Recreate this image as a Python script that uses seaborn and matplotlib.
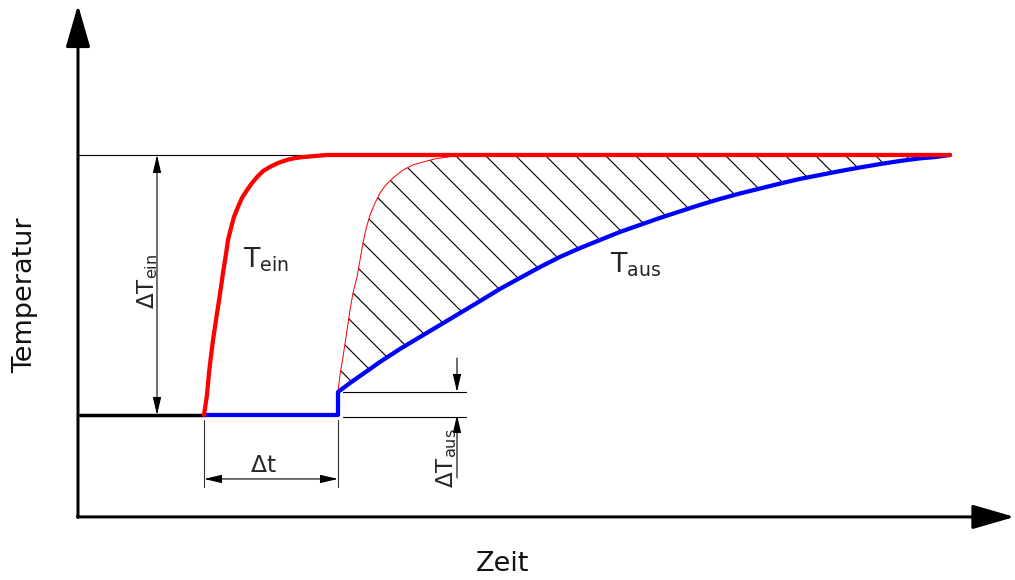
import numpy as np
import pandas as pd
import matplotlib
matplotlib.use("Agg")
import matplotlib.pyplot as plt
import seaborn as sns

# ---------------- data (time units, temperature units: baseline 0, final 10) ----------------
t_base = [0.2, 12.6]
T_base = [0.0, 0.0]

t_ein = [12.6, 12.9, 13.1, 13.3, 13.5, 13.8, 14.0, 14.3, 14.5, 14.8, 15.0, 15.3, 15.6, 16.0,
         16.4, 16.9, 17.4, 17.9, 18.5, 19.2, 20.0, 20.9, 21.7, 22.5, 23.7, 24.9, 87.2]
T_ein = [0.0, 0.77, 1.62, 2.27, 2.88, 3.65, 4.15, 4.92, 5.46, 6.19, 6.73, 7.19, 7.62, 8.0,
         8.35, 8.65, 8.92, 9.15, 9.38, 9.54, 9.69, 9.81, 9.88, 9.92, 9.96, 10.0, 10.0]

t_aus = [12.6, 26.0, 26.0, 27.2, 28.2, 29.2, 30.2, 32.2, 34.2, 36.2, 38.2, 40.2, 42.2, 44.2,
         46.2, 48.2, 50.2, 52.2, 54.2, 56.2, 58.2, 60.2, 62.2, 64.2, 66.2, 68.2, 70.2, 72.2,
         74.2, 76.2, 78.2, 80.2, 82.2, 84.2, 85.7, 87.2]
T_aus = [0.0, 0.0, 0.885, 1.23, 1.5, 1.77, 2.04, 2.54, 3.0, 3.46, 3.92, 4.38, 4.85, 5.27,
         5.69, 6.08, 6.42, 6.73, 7.04, 7.31, 7.58, 7.83, 8.08, 8.31, 8.52, 8.71, 8.9, 9.08,
         9.23, 9.38, 9.52, 9.65, 9.77, 9.87, 9.92, 10.0]

# front of the inlet temperature arriving at the outlet (thin red boundary of hatched area)
t_front = [26.0, 26.2, 26.5, 26.8, 27.2, 27.5, 27.9, 28.2, 28.5, 28.8, 29.2, 29.7, 30.2,
           30.8, 31.5, 32.5, 33.5, 34.5, 35.7, 36.9, 37.9, 39.2]
T_front = [0.885, 1.54, 2.23, 3.0, 4.04, 4.69, 5.31, 5.96, 6.62, 7.15, 7.69, 8.15, 8.54,
           8.85, 9.12, 9.42, 9.62, 9.73, 9.85, 9.92, 9.98, 10.0]

# dimension positions
t_start, t_delay = 12.6, 26.0
T_low, T_high, T_step = 0.0, 10.0, 0.885
t_dim_ein = 7.9
T_dim_dt = -2.46
t_dim_aus = 37.9
T_axis = -3.92

# ---------------- style ----------------
sns.set_theme(style="white")
plt.rcParams["font.family"] = ["DejaVu Sans"]
plt.rcParams["mathtext.fontset"] = "dejavusans"
plt.rcParams["hatch.linewidth"] = 0.45

DPI = 180
fig = plt.figure(figsize=(1015 / DPI, 580 / DPI), dpi=DPI)
ax = fig.add_axes([0, 0, 1, 1])
ax.set_xlim(-7.8, 93.7)
ax.set_ylim(-6.346, 15.96)
ax.axis("off")

RED = "#ff0000"
BLUE = "#0000ff"
thin = 0.45

# hatched area between front and outlet temperature
poly_t = t_front + [t_aus[-1]] + t_aus[2:][::-1]
poly_T = T_front + [T_aus[-1]] + T_aus[2:][::-1]
ax.fill(poly_t, poly_T, facecolor="none", edgecolor="black", linewidth=0, hatch="\\\\", zorder=1)

# helper lines
ax.plot([0, 30], [T_high, T_high], color="black", lw=thin, zorder=2)
for tt in (t_start, t_delay):
    ax.plot([tt, tt], [-0.2, -2.77], color="#333333", lw=thin, zorder=2)
ax.plot([26.5, 38.8], [T_step, T_step], color="black", lw=thin, zorder=2)
ax.plot([26.5, 38.8], [T_low - 0.06, T_low - 0.06], color="black", lw=thin, zorder=2)

# curves
sns.lineplot(x=t_front, y=T_front, sort=False, estimator=None, color=RED, linewidth=0.4, ax=ax, zorder=3)
sns.lineplot(x=t_base, y=T_base, sort=False, estimator=None, color="black", linewidth=1.4, ax=ax, zorder=4)
sns.lineplot(x=t_aus, y=T_aus, sort=False, estimator=None, color=BLUE, linewidth=1.7, ax=ax, zorder=4)
sns.lineplot(x=t_ein, y=T_ein, sort=False, estimator=None, color=RED, linewidth=1.7, ax=ax, zorder=5)

# axes with arrows
ax_arrow = dict(arrowstyle="-|>,head_length=1.45,head_width=0.42", mutation_scale=10,
                lw=1.2, color="black", shrinkA=0, shrinkB=0)
ax.annotate("", xy=(93.65, T_axis), xytext=(-0.06, T_axis), arrowprops=ax_arrow, zorder=6)
ax.annotate("", xy=(0, 15.77), xytext=(0, T_axis - 0.02), arrowprops=ax_arrow, zorder=6)

# dimension arrows
dim = dict(arrowstyle="<|-|>,head_length=0.6,head_width=0.14", mutation_scale=10,
           lw=thin, color="black", shrinkA=0, shrinkB=0)
ax.annotate("", xy=(t_dim_ein, T_high), xytext=(t_dim_ein, T_low), arrowprops=dim)
ax.annotate("", xy=(t_start, T_dim_dt), xytext=(t_delay, T_dim_dt), arrowprops=dim)
one = dict(dim, arrowstyle="-|>,head_length=0.6,head_width=0.14")
ax.annotate("", xy=(t_dim_aus, T_step), xytext=(t_dim_aus, 2.19), arrowprops=one)
ax.annotate("", xy=(t_dim_aus, T_low), xytext=(t_dim_aus, -2.42), arrowprops=one)

# texts
ax.text(-5.3, 4.6, "Temperatur", rotation=90, ha="center", va="center", fontsize=10.8, color="#111111")
ax.text(42.4, -5.73, "Zeit", ha="center", va="center", fontsize=10.8, color="#111111")
ax.text(16.5, 5.96, r"$\mathrm{T}_{\mathrm{ein}}$", ha="left", va="center", fontsize=10.8)
ax.text(53.2, 5.77, r"$\mathrm{T}_{\mathrm{aus}}$", ha="left", va="center", fontsize=10.8)
ax.text(7.0, 5.12, r"$\Delta\mathrm{T}_{\mathrm{ein}}$", rotation=90, ha="center", va="center", fontsize=9.2)
ax.text(18.5, -1.96, r"$\Delta\mathrm{t}$", ha="center", va="center", fontsize=9.4)
ax.text(36.9, -1.65, r"$\Delta\mathrm{T}_{\mathrm{aus}}$", rotation=90, ha="center", va="center", fontsize=9.2)

fig.savefig("out.png", dpi=DPI, facecolor="white")
